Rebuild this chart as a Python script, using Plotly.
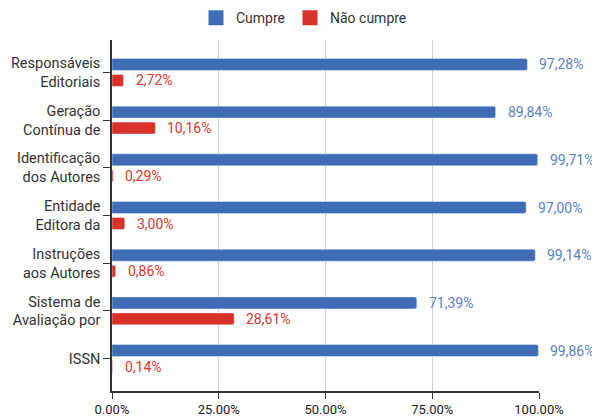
import plotly.graph_objects as go

categories = ["Responsáveis<br>Editoriais", "Geração<br>Contínua de", "Identificação<br>dos Autores",
              "Entidade<br>Editora da", "Instruções<br>aos Autores", "Sistema de<br>Avaliação por", "ISSN"]
cumpre = [97.28, 89.84, 99.71, 97.00, 99.14, 71.39, 99.86]
nao_cumpre = [2.72, 10.16, 0.29, 3.00, 0.86, 28.61, 0.14]
series_names = ["Cumpre", "Não cumpre"]
x_tickvals = [0, 25, 50, 75, 100]
x_ticktext = [f"{v:.2f}%" for v in x_tickvals]

BLUE = "#3e6db6"
RED = "#d8312a"
BLUE_TXT = "#5a7fc0"
RED_TXT = "#d8372c"

def fmt(v):
    return f"{v:.2f}".replace(".", ",") + "%"

fig = go.Figure()
for name, vals, col in [(series_names[0], cumpre, BLUE), (series_names[1], nao_cumpre, RED)]:
    fig.add_trace(go.Bar(y=categories, x=vals, orientation="h", name=name, showlegend=False,
                         marker=dict(color=col, cornerradius=2)))
# legend-only entries with larger square swatches
for name, col in [(series_names[0], BLUE), (series_names[1], RED)]:
    fig.add_trace(go.Scatter(x=[None], y=[None], mode="markers", name=name,
                             marker=dict(symbol="square", size=15, color=col)))

annotations = []
for c, v in zip(categories, cumpre):
    annotations.append(dict(x=v, y=c, text=fmt(v), showarrow=False, xanchor="left",
                            xshift=10, yshift=8, font=dict(color=BLUE_TXT, size=14)))
for c, v in zip(categories, nao_cumpre):
    annotations.append(dict(x=v, y=c, text=fmt(v), showarrow=False, xanchor="left",
                            xshift=10, yshift=-8, font=dict(color=RED_TXT, size=14)))

fig.update_layout(
    width=592, height=409,
    margin=dict(l=104, r=61, t=32, b=26, autoexpand=False),
    paper_bgcolor="white", plot_bgcolor="white",
    font=dict(family="Roboto", size=14, color="#333333"),
    barmode="group", bargap=0.33, bargroupgap=0.25,
    showlegend=True,
    legend=dict(orientation="h", x=0.5, xref="container", xanchor="center",
                y=0.975, yref="container", yanchor="middle", itemwidth=30,
                font=dict(size=14, color="#333333")),
    annotations=annotations,
)
fig.update_xaxes(range=[0, 100], tickvals=x_tickvals, ticktext=x_ticktext,
                 showgrid=True, gridcolor="#d0d0d0", gridwidth=1,
                 showline=True, linecolor="#333333", linewidth=1.5,
                 ticks="outside", ticklen=6, tickcolor="#333333",
                 ticklabelstandoff=0,
                 tickfont=dict(size=13, color="#222222"), zeroline=False)
fig.update_yaxes(range=[6.68, -0.68], showline=True, linecolor="#333333", linewidth=1.5,
                 ticks="outside", ticklen=7, tickcolor="#333333",
                 tickfont=dict(size=14.5, color="#333333"), showgrid=False)

fig.write_html("out.html")
